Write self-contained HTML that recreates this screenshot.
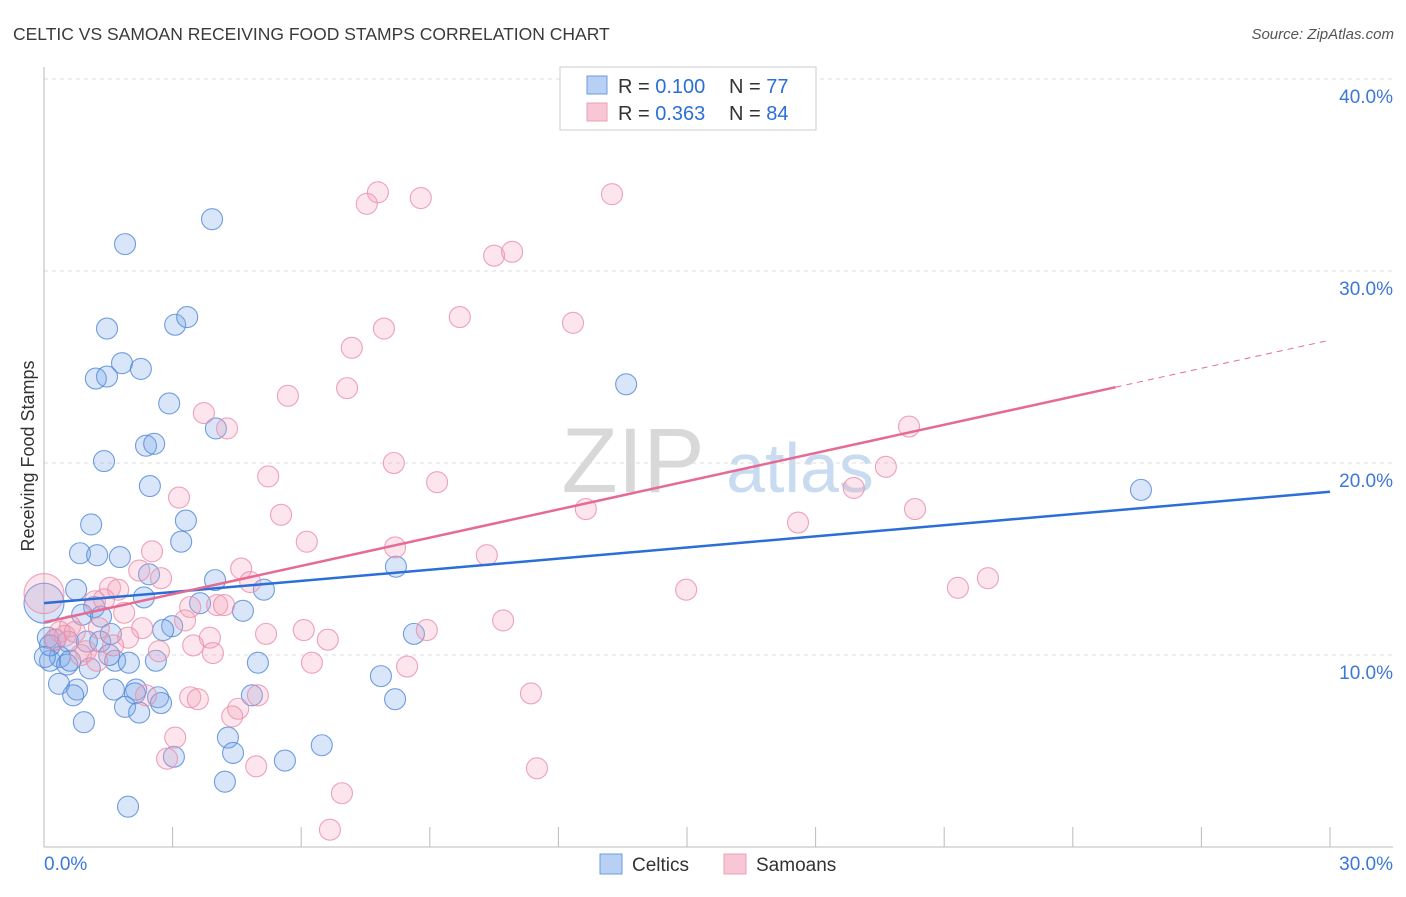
<!DOCTYPE html>
<html><head><meta charset="utf-8"><style>
body{margin:0;background:#fff;font-family:"Liberation Sans",sans-serif}
svg text{font-family:"Liberation Sans",sans-serif}
</style></head><body>
<svg id="c" width="1406" height="892" viewBox="0 0 1406 892">
<text x="13" y="40" font-size="17.5" fill="#3a3a3a">CELTIC VS SAMOAN RECEIVING FOOD STAMPS CORRELATION CHART</text>
<text x="1394" y="39" font-size="15" fill="#555" font-style="italic" text-anchor="end">Source: ZipAtlas.com</text>
<g><text x="633" y="492" font-size="92" fill="#d8d8d8" font-family="Liberation Serif" text-anchor="middle">ZIP</text><text x="800" y="492" font-size="70" fill="#c8dbf0" text-anchor="middle">atlas</text></g>
<text transform="translate(34,456) rotate(-90)" font-size="18" fill="#333" text-anchor="middle">Receiving Food Stamps</text>
<g id="grid"></g><g id="pts"></g><g id="lines"></g>
<g>
<rect x="560" y="67" width="256" height="63" fill="#fff" stroke="#ccc"/>
<rect x="587" y="76" width="20" height="18" fill="#b7d0f3" stroke="#6b9be0"/>
<rect x="587" y="103" width="20" height="18" fill="#f8c6d5" stroke="#ee9fb8"/>
<text x="618" y="93" font-size="20" fill="#333">R = <tspan fill="#2b6fd6">0.100</tspan></text>
<text x="729" y="93" font-size="20" fill="#333">N = <tspan fill="#2b6fd6">77</tspan></text>
<text x="618" y="120" font-size="20" fill="#333">R = <tspan fill="#2b6fd6">0.363</tspan></text>
<text x="729" y="120" font-size="20" fill="#333">N = <tspan fill="#2b6fd6">84</tspan></text>
</g>
<g>
<rect x="600" y="854" width="22" height="20" fill="#b7d0f3" stroke="#6b9be0"/>
<text x="632" y="871" font-size="19" fill="#333">Celtics</text>
<rect x="724" y="854" width="22" height="20" fill="#f8c6d5" stroke="#ee9fb8"/>
<text x="756" y="871" font-size="19" fill="#333">Samoans</text>
</g>
</svg>
<script>
const yTicks=[10,20,30,40];
const yTickLabels=["10.0%","20.0%","30.0%","40.0%"];
const xTickLabels=["0.0%","30.0%"];
const celticsX=[3.92,1.89,1.47,3.06,3.34,1.82,2.26,1.21,1.47,13.58,2.92,4.01,2.38,2.57,1.40,2.47,25.59,3.31,1.10,3.20,0.84,1.24,1.77,2.45,3.99,5.13,0.75,2.33,3.64,1.17,4.64,0.89,1.33,8.21,2.99,8.63,0.26,0.56,1.00,1.31,1.56,0.09,0.37,0.14,0.54,1.07,1.66,1.98,2.61,4.99,7.86,0.35,0.77,0.68,1.63,2.15,2.12,2.66,1.89,2.73,4.85,8.19,2.22,0.93,4.29,4.41,6.48,3.03,5.62,4.22,1.96,0.14,0.02,2.78,1.52,0.61,0];
const celticsY=[32.7,31.4,27.0,27.2,27.6,25.2,24.9,24.4,24.5,24.1,23.1,21.8,20.9,21.0,20.1,18.8,18.6,17.0,16.8,15.9,15.3,15.2,15.1,14.2,13.9,13.4,13.4,13.0,12.7,12.5,12.3,12.1,12.0,14.6,11.5,11.1,10.8,10.7,10.7,10.7,11.1,10.9,9.9,9.7,9.5,9.3,9.7,9.6,9.7,9.6,8.9,8.5,8.2,7.9,8.2,8.2,8.0,7.8,7.3,7.5,7.9,7.7,7.0,6.5,5.7,4.9,5.3,4.7,4.5,3.4,2.1,10.5,9.9,11.3,10.0,9.7,12.7];
const samoansX=[7.79,8.79,7.53,13.25,10.50,10.92,9.70,12.34,7.93,7.18,7.07,5.69,3.73,4.27,20.18,8.16,19.64,5.23,9.17,3.15,18.89,12.64,20.32,5.53,17.59,6.13,8.19,2.52,10.33,4.60,2.22,2.73,4.81,1.54,1.73,21.32,22.02,14.98,1.19,1.40,3.41,4.04,4.20,1.87,3.29,10.71,8.93,6.06,5.18,2.29,1.28,0.61,0.37,0.26,1.96,3.87,6.62,1.61,3.48,0.98,2.68,3.94,0.86,6.25,8.47,1.24,11.36,3.41,3.59,2.38,4.99,4.53,4.39,3.06,2.87,4.95,11.50,6.95,6.67,0.49,0.72,0];
const samoansY=[34.1,33.8,33.5,34.0,30.8,31.0,27.6,27.3,27.0,26.0,23.9,23.5,22.6,21.8,21.9,20.0,19.8,19.3,19.0,18.2,18.7,17.6,17.6,17.3,16.9,15.9,15.6,15.4,15.2,14.5,14.4,14.0,13.8,13.5,13.4,13.5,14.0,13.4,12.8,12.9,12.5,12.6,12.6,12.2,11.8,11.8,11.3,11.3,11.1,11.4,11.4,11.5,11.2,10.8,10.9,10.9,10.8,10.5,10.5,10.2,10.2,10.1,10.0,9.6,9.4,9.7,8.0,7.8,7.7,7.9,7.9,7.2,6.8,5.7,4.6,4.2,4.1,2.8,0.9,11.0,11.2,13.2];
const celticsTrend=[12.7,18.5];
const samoansTrend=[11.7,26.4];
const NS="http://www.w3.org/2000/svg";
const X=v=>44+v*(1286/30), Y=v=>847-v*19.2;
function mk(t,a,p){const e=document.createElementNS(NS,t);for(const k in a)e.setAttribute(k,a[k]);p.appendChild(e);return e;}
const grid=document.getElementById('grid');
yTicks.forEach((t,i)=>{
 const l=mk('line',{x1:44,x2:1393,y1:Y(t),y2:Y(t),stroke:'#ddd','stroke-dasharray':'4,4'},grid);
 
 
 const tx=mk('text',{x:1393,y:Y(t)+24,'font-size':19,fill:'#3b78d8','text-anchor':'end'},grid);
 tx.textContent=yTickLabels[i];
 
 
});
let ax=mk('line',{x1:44,x2:44,y1:67,y2:847,stroke:'#bbb'},grid);


ax=mk('line',{x1:44,x2:1393,y1:847,y2:847,stroke:'#bbb'},grid);


for(let i=1;i<=10;i++){const t=mk('line',{x1:X(i*3),x2:X(i*3),y1:827,y2:847,stroke:'#bbb'},grid);
 
 }
[[0,'start',44],[1,'end',1393]].forEach(([i,a,x])=>{const t=mk('text',{x:x,y:870,'font-size':19,fill:'#3b78d8','text-anchor':a},grid);t.textContent=xTickLabels[i];
 
 });
const pts=document.getElementById('pts');
function series(xs,ys,fill,stroke,name){xs.forEach((x,i)=>{const big=i===xs.length-1;
 const c=mk('circle',{cx:X(x),cy:Y(ys[i]),r:big?20:10.5,fill:fill,stroke:stroke,'stroke-width':1.1},pts);
 
 });}
series(celticsX,celticsY,'rgba(120,165,235,0.28)','rgba(80,135,215,0.8)','celtics-point');
series(samoansX,samoansY,'rgba(245,160,188,0.28)','rgba(235,140,170,0.8)','samoans-point');
const lines=document.getElementById('lines');
let ln=mk('line',{x1:X(0),y1:Y(celticsTrend[0]),x2:X(30),y2:Y(celticsTrend[1]),stroke:'#2b6fd6','stroke-width':2.5},lines);


const py=x=>samoansTrend[0]+(samoansTrend[1]-samoansTrend[0])*x/30;
ln=mk('line',{x1:X(0),y1:Y(py(0)),x2:X(25),y2:Y(py(25)),stroke:'#e56b95','stroke-width':2.5},lines);


ln=mk('line',{x1:X(25),y1:Y(py(25)),x2:X(30),y2:Y(py(30)),stroke:'#e56b95','stroke-width':1,'stroke-dasharray':'6,5'},lines);


</script>
</body></html>
